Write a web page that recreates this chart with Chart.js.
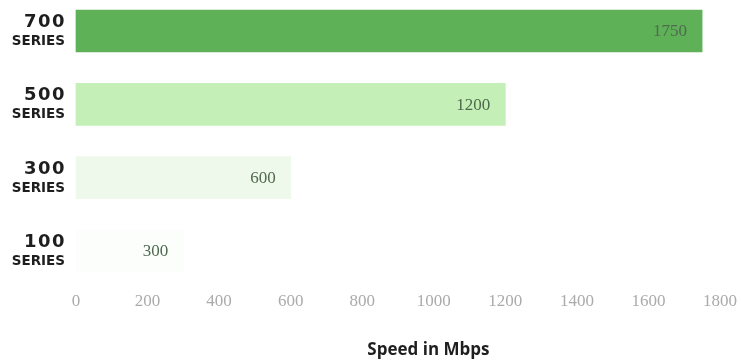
<!DOCTYPE html>
<html>
<head>
<meta charset="utf-8">
<script src="https://cdn.jsdelivr.net/npm/chart.js@4.4.1/dist/chart.umd.min.js"></script>
<style>
  html, body { margin: 0; padding: 0; background: #fff; }
  #wrap { width: 741px; height: 362px; position: relative; }
</style>
</head>
<body>
<div id="wrap"><canvas id="speed-chart"></canvas></div>
<script>
const seriesNames = ['700', '500', '300', '100'];
const speeds = [1750, 1200, 600, 300];
const barColors = ['#5fb157', '#c4efb6', '#eff9eb', '#fcfefc'];
const xTicks = [0, 200, 400, 600, 800, 1000, 1200, 1400, 1600, 1800];
const axisTitle = 'Speed in Mbps';

// series names drawn as two lines: big number + small "SERIES"
const seriesLabels = {
    id: 'seriesLabels',
    afterDraw(chart) {
        const ctx = chart.ctx;
        const y = chart.scales.y;
        ctx.save();
        ctx.fillStyle = '#1e1e1e';
        ctx.textAlign = 'right';
        ctx.textBaseline = 'alphabetic';
        seriesNames.forEach((name, i) => {
            const cy = y.getPixelForValue(i);
            ctx.font = 'bold 18px "DejaVu Sans"';
            ctx.letterSpacing = '1.5px';
            ctx.fillText(name, 66, cy - 4);
            ctx.font = 'bold 13.5px "DejaVu Sans"';
            ctx.letterSpacing = '0px';
            ctx.fillText('SERIES', 65, cy + 14);
        });
        ctx.restore();
    }
};

// value labels inside the end of each bar
const valueLabels = {
    id: 'valueLabels',
    afterDatasetsDraw(chart) {
        const ctx = chart.ctx;
        const meta = chart.getDatasetMeta(0);
        ctx.save();
        ctx.font = '17px "Liberation Serif"';
        ctx.fillStyle = '#4f6a4f';
        ctx.textAlign = 'right';
        ctx.textBaseline = 'middle';
        meta.data.forEach((bar, i) => {
            ctx.fillText(String(speeds[i]), bar.x - 15, bar.y + 1);
        });
        ctx.restore();
    }
};

const axisTitlePlugin = {
    id: 'axisTitle',
    afterDraw(chart) {
        const ctx = chart.ctx;
        ctx.save();
        ctx.font = 'bold 17px "Open Sans"';
        ctx.fillStyle = '#1e1e1e';
        ctx.textAlign = 'center';
        ctx.textBaseline = 'alphabetic';
        ctx.fillText(axisTitle, chart.scales.x.getPixelForValue(985), 355);
        ctx.restore();
    }
};

new Chart(document.getElementById('speed-chart'), {
    type: 'bar',
    data: {
        labels: seriesNames,
        datasets: [{
            data: speeds,
            backgroundColor: barColors,
            borderWidth: 0,
            barThickness: 42,
            clip: false
        }]
    },
    options: {
        indexAxis: 'y',
        responsive: true,
        maintainAspectRatio: false,
        animation: false,
        layout: { padding: { top: 31, left: 76, right: 21, bottom: 0 } },
        plugins: { legend: { display: false }, tooltip: { enabled: false } },
        scales: {
            x: {
                min: 0,
                max: 1800,
                afterBuildTicks: (scale) => { scale.ticks = xTicks.map(v => ({ value: v })); },
                afterFit: (scale) => {
                    scale.height = 111;
                    scale.paddingLeft = 0;
                    scale.paddingRight = 0;
                },
                grid: { display: false, drawTicks: false },
                border: { display: false },
                ticks: {
                    padding: 40,
                    maxRotation: 0,
                    color: '#ababab',
                    font: { family: 'Liberation Serif', size: 17 },
                    callback: (v) => String(v)
                }
            },
            y: {
                offset: false,
                grid: { display: false, drawTicks: false },
                border: { display: false },
                ticks: { display: false }
            }
        }
    },
    plugins: [seriesLabels, valueLabels, axisTitlePlugin]
});
</script>
</body>
</html>
